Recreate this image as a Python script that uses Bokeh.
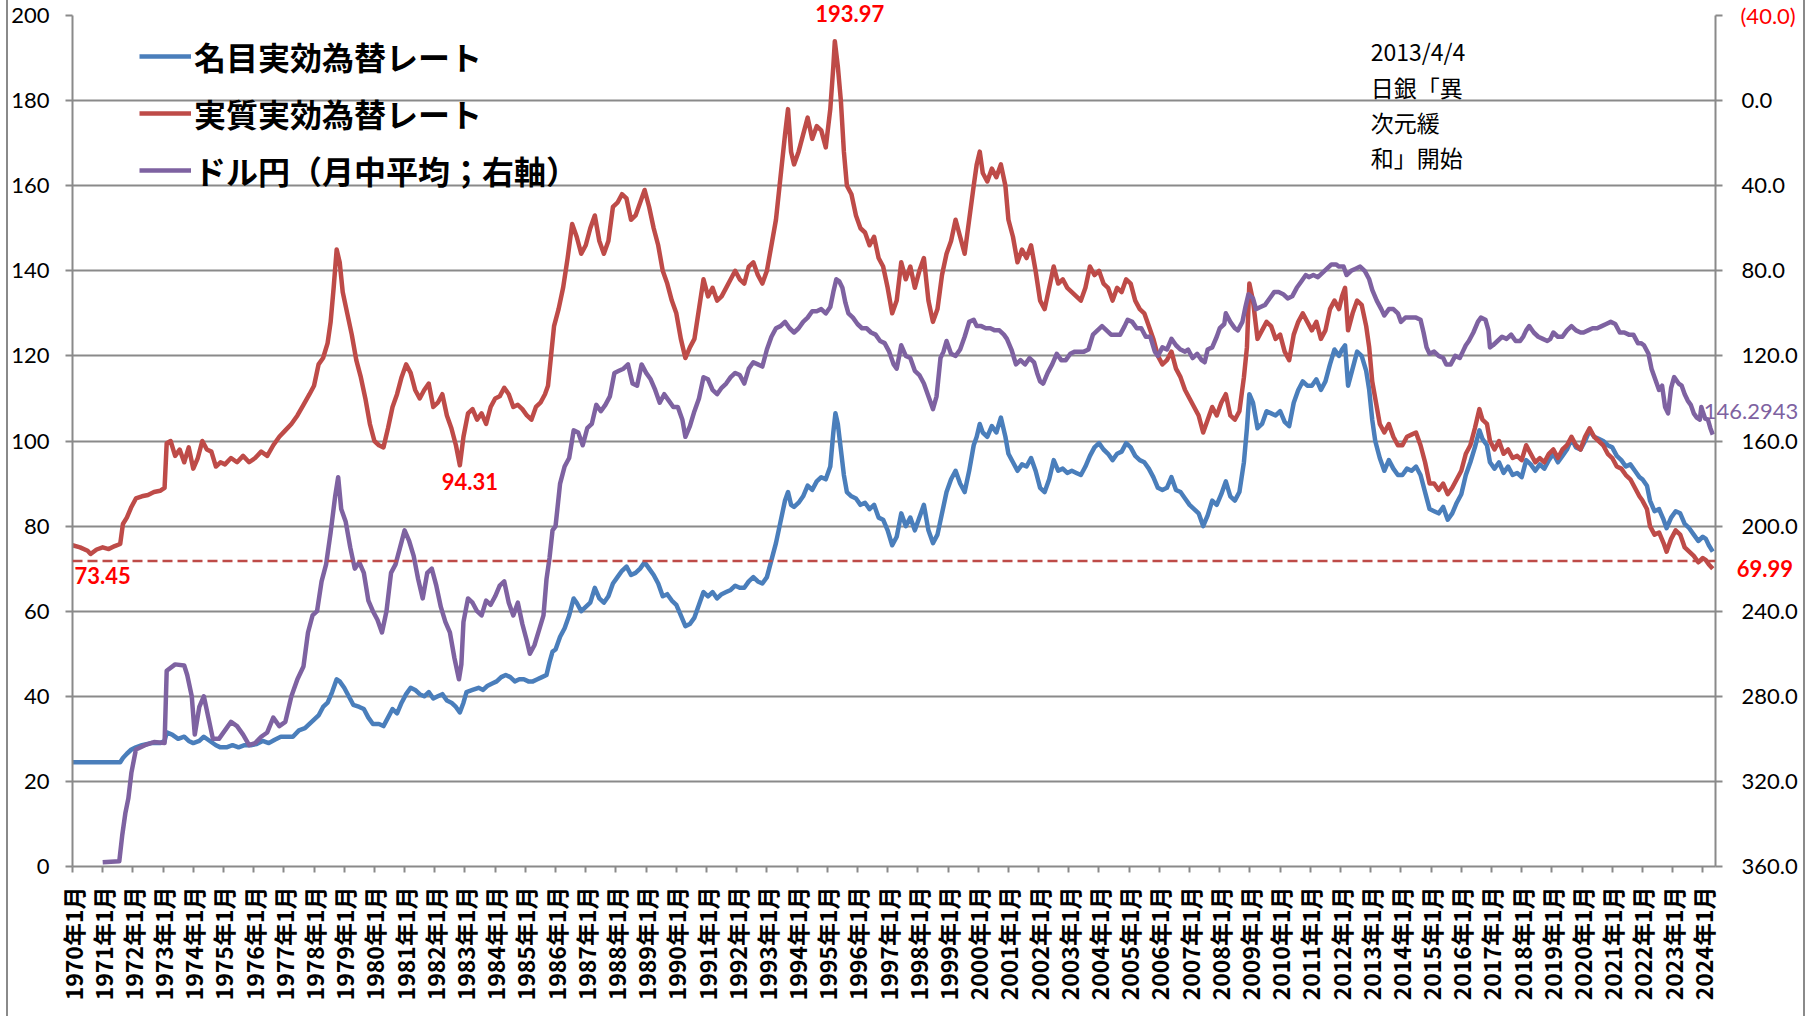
from bokeh.plotting import figure
from bokeh.layouts import column
from bokeh.models import (Range1d, LinearAxis, FixedTicker, Label, Legend,
                          LegendItem, Span, PrintfTickFormatter)
from bokeh.embed import file_html
from bokeh.resources import INLINE

# ---------------- data: (fractional year, value) ----------------
reer = [(1970.0,75.5),(1970.25,75.0),(1970.5,74.2),(1970.6,73.45),(1970.8,74.5),(1971.0,75.0),(1971.2,74.6),(1971.4,75.3),(1971.58,75.8),(1971.67,80.5),(1971.8,82.0),(1971.95,84.5),(1972.1,86.5),(1972.3,87.0),(1972.5,87.3),(1972.7,88.0),(1972.9,88.3),(1973.05,89.0),(1973.12,99.5),(1973.25,100.0),(1973.4,96.5),(1973.55,98.0),(1973.7,95.0),(1973.85,98.5),(1974.0,93.5),(1974.15,96.0),(1974.3,100.0),(1974.45,98.0),(1974.6,97.5),(1974.75,94.0),(1974.9,95.0),(1975.05,94.5),(1975.25,96.0),(1975.45,95.0),(1975.65,96.5),(1975.85,95.0),(1976.05,96.0),(1976.25,97.5),(1976.45,96.5),(1976.65,99.0),(1976.85,101.0),(1977.05,102.5),(1977.25,104.0),(1977.45,106.0),(1977.65,108.5),(1977.85,111.0),(1978.0,113.0),(1978.15,118.0),(1978.3,119.5),(1978.45,123.0),(1978.55,128.0),(1978.65,136.0),(1978.75,145.0),(1978.85,142.0),(1978.95,135.0),(1979.1,130.0),(1979.25,125.0),(1979.4,119.0),(1979.55,115.0),(1979.7,110.0),(1979.85,104.0),(1980.0,100.0),(1980.15,99.0),(1980.3,98.5),(1980.45,103.0),(1980.6,108.0),(1980.75,111.0),(1980.9,115.0),(1981.05,118.0),(1981.2,116.0),(1981.35,112.0),(1981.5,110.0),(1981.65,112.0),(1981.8,113.5),(1981.95,108.0),(1982.1,109.0),(1982.25,111.0),(1982.4,106.0),(1982.55,103.0),(1982.7,99.0),(1982.83,94.31),(1982.95,101.0),(1983.1,106.5),(1983.25,107.5),(1983.4,105.0),(1983.55,106.5),(1983.7,104.0),(1983.85,108.0),(1984.0,110.0),(1984.15,110.5),(1984.3,112.5),(1984.45,111.0),(1984.6,108.0),(1984.75,108.5),(1984.9,107.5),(1985.05,106.0),(1985.2,105.0),(1985.35,108.0),(1985.5,109.0),(1985.65,111.0),(1985.75,113.0),(1985.85,120.0),(1985.95,127.0),(1986.1,131.0),(1986.25,136.0),(1986.4,143.0),(1986.55,151.0),(1986.7,148.0),(1986.85,144.0),(1987.0,146.0),(1987.15,150.0),(1987.3,153.0),(1987.45,147.0),(1987.6,144.0),(1987.75,147.0),(1987.9,155.0),(1988.05,156.0),(1988.2,158.0),(1988.35,157.0),(1988.5,152.0),(1988.65,153.0),(1988.8,156.0),(1988.95,159.0),(1989.1,155.0),(1989.25,150.0),(1989.4,146.0),(1989.55,140.0),(1989.7,137.0),(1989.85,133.0),(1990.0,130.0),(1990.15,124.0),(1990.3,119.5),(1990.45,122.0),(1990.6,124.0),(1990.75,131.0),(1990.9,138.0),(1991.05,134.0),(1991.2,136.0),(1991.35,133.0),(1991.5,134.0),(1991.65,136.0),(1991.8,138.0),(1991.95,140.0),(1992.1,138.0),(1992.25,137.0),(1992.4,141.0),(1992.55,142.0),(1992.7,139.0),(1992.85,137.0),(1993.0,140.0),(1993.15,146.0),(1993.3,152.0),(1993.45,162.0),(1993.6,172.0),(1993.7,178.0),(1993.8,168.0),(1993.9,165.0),(1994.05,168.0),(1994.2,172.0),(1994.35,176.0),(1994.5,171.0),(1994.65,174.0),(1994.8,173.0),(1994.95,169.0),(1995.1,178.0),(1995.2,188.0),(1995.25,193.97),(1995.35,188.0),(1995.45,180.0),(1995.55,168.0),(1995.65,160.0),(1995.8,158.0),(1995.95,153.0),(1996.1,150.0),(1996.25,149.0),(1996.4,146.0),(1996.55,148.0),(1996.7,143.0),(1996.85,141.0),(1997.0,136.0),(1997.15,130.0),(1997.3,133.0),(1997.45,142.0),(1997.6,138.0),(1997.75,141.0),(1997.9,136.0),(1998.05,140.0),(1998.2,143.0),(1998.35,133.0),(1998.5,128.0),(1998.65,131.0),(1998.8,139.0),(1998.95,144.0),(1999.1,147.0),(1999.25,152.0),(1999.4,148.0),(1999.55,144.0),(1999.7,152.0),(1999.85,160.0),(1999.95,165.0),(2000.05,168.0),(2000.15,163.0),(2000.3,161.0),(2000.45,164.0),(2000.6,162.0),(2000.75,165.0),(2000.9,160.0),(2001.0,152.0),(2001.15,148.0),(2001.3,142.0),(2001.45,145.0),(2001.6,143.0),(2001.75,146.0),(2001.9,140.0),(2002.05,133.0),(2002.2,131.0),(2002.35,136.0),(2002.5,141.0),(2002.65,137.0),(2002.8,138.0),(2002.95,136.0),(2003.1,135.0),(2003.25,134.0),(2003.4,133.0),(2003.55,136.0),(2003.7,141.0),(2003.85,139.0),(2004.0,140.0),(2004.15,137.0),(2004.3,136.0),(2004.45,133.0),(2004.6,136.0),(2004.75,135.0),(2004.9,138.0),(2005.05,137.0),(2005.2,133.0),(2005.35,131.0),(2005.5,130.0),(2005.65,127.0),(2005.8,124.0),(2005.95,120.0),(2006.1,118.0),(2006.25,119.0),(2006.4,121.0),(2006.55,117.0),(2006.7,115.0),(2006.85,112.0),(2007.0,110.0),(2007.15,108.0),(2007.3,106.0),(2007.45,102.0),(2007.6,105.0),(2007.75,108.0),(2007.9,106.0),(2008.05,109.0),(2008.2,111.0),(2008.35,106.0),(2008.5,105.0),(2008.65,107.0),(2008.8,115.0),(2008.9,122.0),(2008.98,137.0),(2009.1,133.0),(2009.25,124.0),(2009.4,126.0),(2009.55,128.0),(2009.7,127.0),(2009.85,124.0),(2010.0,125.0),(2010.15,121.0),(2010.3,119.0),(2010.45,125.0),(2010.6,128.0),(2010.75,130.0),(2010.9,128.0),(2011.05,126.0),(2011.2,128.0),(2011.35,124.0),(2011.5,126.0),(2011.65,131.0),(2011.8,133.0),(2011.95,131.0),(2012.05,134.0),(2012.15,136.0),(2012.25,126.0),(2012.4,130.0),(2012.55,133.0),(2012.7,132.0),(2012.85,127.0),(2012.95,122.0),(2013.05,114.0),(2013.15,110.0),(2013.3,104.0),(2013.45,102.0),(2013.6,104.0),(2013.75,101.0),(2013.9,99.0),(2014.05,99.0),(2014.2,101.0),(2014.35,101.5),(2014.5,102.0),(2014.65,99.0),(2014.8,95.0),(2014.95,90.0),(2015.1,90.0),(2015.25,88.5),(2015.4,90.0),(2015.55,87.5),(2015.7,89.0),(2015.85,91.0),(2016.0,93.0),(2016.15,97.0),(2016.3,99.0),(2016.45,103.0),(2016.6,107.5),(2016.7,105.0),(2016.85,104.0),(2016.95,100.0),(2017.1,98.0),(2017.25,100.0),(2017.4,97.0),(2017.55,98.0),(2017.7,96.0),(2017.85,96.5),(2018.0,95.5),(2018.15,99.0),(2018.3,97.0),(2018.45,95.0),(2018.6,96.0),(2018.75,95.0),(2018.9,97.0),(2019.05,98.0),(2019.2,96.0),(2019.35,98.0),(2019.5,99.0),(2019.65,101.0),(2019.8,99.0),(2019.95,98.0),(2020.1,101.0),(2020.25,103.0),(2020.4,101.0),(2020.55,100.0),(2020.7,99.0),(2020.85,97.0),(2021.0,96.0),(2021.15,94.0),(2021.3,93.5),(2021.45,92.0),(2021.6,91.0),(2021.75,89.0),(2021.9,87.0),(2022.0,86.0),(2022.15,84.0),(2022.25,80.0),(2022.4,78.0),(2022.55,78.5),(2022.7,76.0),(2022.8,74.0),(2022.95,77.0),(2023.1,79.0),(2023.25,78.0),(2023.4,75.0),(2023.55,74.0),(2023.7,73.0),(2023.85,71.5),(2024.0,72.5),(2024.1,72.0),(2024.2,71.0),(2024.33,69.99)]

neer = [(1970.0,24.5),(1971.58,24.5),(1971.67,25.5),(1971.8,26.5),(1971.95,27.5),(1972.1,28.0),(1972.3,28.5),(1972.6,29.0),(1972.9,29.0),(1973.05,29.5),(1973.12,31.5),(1973.3,31.0),(1973.5,30.0),(1973.7,30.5),(1973.85,29.5),(1974.0,29.0),(1974.2,29.5),(1974.35,30.5),(1974.55,29.5),(1974.75,28.5),(1974.9,28.0),(1975.1,28.0),(1975.3,28.5),(1975.5,28.0),(1975.7,28.5),(1975.9,28.5),(1976.1,28.8),(1976.3,29.5),(1976.5,29.0),(1976.7,29.8),(1976.9,30.5),(1977.1,30.5),(1977.3,30.5),(1977.5,32.0),(1977.7,32.5),(1977.85,33.5),(1978.0,34.5),(1978.15,35.5),(1978.3,37.5),(1978.45,38.5),(1978.6,41.0),(1978.75,44.0),(1978.85,43.5),(1979.0,42.0),(1979.15,40.0),(1979.3,38.0),(1979.5,37.5),(1979.65,37.0),(1979.8,35.0),(1979.95,33.5),(1980.15,33.5),(1980.3,33.0),(1980.45,35.0),(1980.6,37.0),(1980.75,36.0),(1980.9,38.5),(1981.05,40.5),(1981.2,42.0),(1981.35,41.5),(1981.5,40.5),(1981.65,40.0),(1981.8,41.0),(1981.95,39.5),(1982.1,40.0),(1982.25,40.5),(1982.4,39.0),(1982.55,38.5),(1982.7,37.5),(1982.83,36.2),(1982.95,38.5),(1983.05,41.0),(1983.25,41.5),(1983.45,42.0),(1983.6,41.5),(1983.75,42.5),(1983.9,43.0),(1984.05,43.5),(1984.2,44.5),(1984.35,45.0),(1984.5,44.5),(1984.65,43.5),(1984.8,44.0),(1984.95,44.0),(1985.1,43.5),(1985.25,43.5),(1985.4,44.0),(1985.55,44.5),(1985.7,45.0),(1985.8,48.0),(1985.9,50.5),(1986.0,51.0),(1986.15,54.0),(1986.3,56.0),(1986.45,59.0),(1986.6,63.0),(1986.7,62.0),(1986.85,60.0),(1987.0,61.0),(1987.15,62.0),(1987.3,65.5),(1987.45,63.0),(1987.6,62.0),(1987.75,63.5),(1987.9,66.5),(1988.05,68.0),(1988.2,69.5),(1988.35,70.5),(1988.5,68.5),(1988.65,69.0),(1988.8,70.0),(1988.95,71.5),(1989.1,70.0),(1989.25,68.5),(1989.4,66.5),(1989.55,63.5),(1989.7,64.0),(1989.85,62.5),(1990.0,61.5),(1990.15,59.0),(1990.3,56.5),(1990.45,57.0),(1990.6,58.5),(1990.75,61.5),(1990.9,64.5),(1991.05,63.5),(1991.2,64.5),(1991.35,63.0),(1991.5,64.0),(1991.65,64.5),(1991.8,65.0),(1991.95,66.0),(1992.1,65.5),(1992.25,65.5),(1992.4,67.0),(1992.55,68.0),(1992.7,67.0),(1992.85,66.5),(1993.0,68.0),(1993.15,72.0),(1993.3,76.0),(1993.45,81.0),(1993.6,86.0),(1993.7,88.0),(1993.8,85.0),(1993.9,84.5),(1994.05,85.5),(1994.2,87.0),(1994.35,89.5),(1994.5,88.5),(1994.65,90.5),(1994.8,91.5),(1994.95,91.0),(1995.1,94.0),(1995.2,102.0),(1995.27,106.5),(1995.35,104.0),(1995.45,98.0),(1995.55,92.0),(1995.65,88.0),(1995.8,87.0),(1995.95,86.5),(1996.1,85.0),(1996.25,85.5),(1996.4,84.0),(1996.55,85.0),(1996.7,82.0),(1996.85,81.5),(1997.0,79.0),(1997.15,75.5),(1997.3,77.5),(1997.45,83.0),(1997.6,80.0),(1997.75,82.0),(1997.9,79.0),(1998.05,82.0),(1998.2,85.0),(1998.35,79.0),(1998.5,76.0),(1998.65,78.0),(1998.8,83.0),(1998.95,88.0),(1999.1,91.0),(1999.25,93.0),(1999.4,90.0),(1999.55,88.0),(1999.7,93.0),(1999.85,99.0),(1999.95,101.0),(2000.05,104.0),(2000.15,102.0),(2000.3,101.0),(2000.45,103.5),(2000.6,102.0),(2000.75,105.5),(2000.9,101.0),(2001.0,97.0),(2001.15,95.0),(2001.3,93.0),(2001.45,94.5),(2001.6,94.0),(2001.75,96.0),(2001.9,93.0),(2002.05,89.0),(2002.2,88.0),(2002.35,91.0),(2002.5,95.5),(2002.65,93.0),(2002.8,93.5),(2002.95,92.5),(2003.1,93.0),(2003.25,92.5),(2003.4,92.0),(2003.55,94.0),(2003.7,96.5),(2003.85,98.5),(2004.0,99.5),(2004.15,98.0),(2004.3,97.0),(2004.45,95.5),(2004.6,97.0),(2004.75,97.5),(2004.9,99.5),(2005.05,98.5),(2005.2,96.5),(2005.35,95.5),(2005.5,95.0),(2005.65,93.5),(2005.8,91.5),(2005.95,89.0),(2006.1,88.5),(2006.25,89.0),(2006.4,91.5),(2006.55,88.5),(2006.7,88.0),(2006.85,86.5),(2007.0,85.0),(2007.15,84.0),(2007.3,83.0),(2007.45,80.0),(2007.6,82.5),(2007.75,86.0),(2007.9,85.0),(2008.05,87.5),(2008.2,90.5),(2008.35,87.0),(2008.5,86.0),(2008.65,88.0),(2008.8,95.0),(2008.9,103.0),(2008.98,111.0),(2009.1,109.0),(2009.25,103.0),(2009.4,104.0),(2009.55,107.0),(2009.7,106.5),(2009.85,106.0),(2010.0,107.0),(2010.15,104.5),(2010.3,103.5),(2010.45,109.0),(2010.6,112.0),(2010.75,114.0),(2010.9,113.0),(2011.05,113.0),(2011.2,114.5),(2011.35,112.0),(2011.5,114.0),(2011.65,118.0),(2011.8,121.5),(2011.95,120.0),(2012.05,121.5),(2012.15,122.5),(2012.25,113.0),(2012.4,117.0),(2012.55,121.0),(2012.7,120.0),(2012.85,116.5),(2012.95,112.0),(2013.05,105.0),(2013.15,100.0),(2013.3,96.0),(2013.45,93.0),(2013.6,95.5),(2013.75,93.5),(2013.9,92.0),(2014.05,92.0),(2014.2,93.5),(2014.35,93.0),(2014.5,94.0),(2014.65,92.0),(2014.8,88.0),(2014.95,84.0),(2015.1,83.5),(2015.25,83.0),(2015.4,84.5),(2015.55,81.5),(2015.7,83.0),(2015.85,85.5),(2016.0,87.5),(2016.15,92.0),(2016.3,95.0),(2016.45,98.5),(2016.6,102.5),(2016.7,100.5),(2016.85,99.0),(2016.95,95.0),(2017.1,93.5),(2017.25,95.0),(2017.4,92.5),(2017.55,94.0),(2017.7,92.0),(2017.85,92.5),(2018.0,91.5),(2018.15,95.5),(2018.3,94.5),(2018.45,93.0),(2018.6,94.5),(2018.75,93.5),(2018.9,95.5),(2019.05,97.0),(2019.2,95.0),(2019.35,96.5),(2019.5,98.0),(2019.65,100.5),(2019.8,98.5),(2019.95,98.0),(2020.1,100.0),(2020.25,102.5),(2020.4,101.0),(2020.55,100.5),(2020.7,100.0),(2020.85,99.0),(2021.0,98.5),(2021.15,96.5),(2021.3,95.5),(2021.45,94.0),(2021.6,94.5),(2021.75,93.0),(2021.9,91.5),(2022.0,91.0),(2022.15,89.5),(2022.25,86.0),(2022.4,83.5),(2022.55,84.0),(2022.7,81.5),(2022.8,79.5),(2022.95,82.0),(2023.1,83.5),(2023.25,83.0),(2023.4,80.5),(2023.55,79.5),(2023.7,78.0),(2023.85,76.5),(2024.0,77.5),(2024.1,77.0),(2024.2,75.5),(2024.33,74.0)]

usdjpy = [(1971.0,358),(1971.55,357.5),(1971.65,345),(1971.75,335),(1971.85,328),(1971.95,316),(1972.1,305),(1972.4,303),(1972.7,301.5),(1973.05,302),(1973.12,268),(1973.4,265),(1973.7,265.5),(1973.8,270),(1973.95,280),(1974.05,298),(1974.2,285),(1974.35,280),(1974.5,290),(1974.65,300),(1974.85,300),(1975.05,296),(1975.25,292),(1975.45,294),(1975.65,298),(1975.85,303),(1976.05,302),(1976.25,299),(1976.45,297),(1976.65,290),(1976.85,294),(1977.05,292),(1977.25,280),(1977.45,272),(1977.65,266),(1977.8,250),(1977.95,242),(1978.1,240),(1978.25,226),(1978.4,218),(1978.55,203),(1978.7,186),(1978.8,177),(1978.9,192),(1979.05,198),(1979.2,210),(1979.35,220),(1979.5,217),(1979.65,222),(1979.8,235),(1979.95,240),(1980.1,244),(1980.25,250),(1980.4,240),(1980.55,222),(1980.7,218),(1980.85,210),(1981.0,202),(1981.15,207),(1981.3,214),(1981.45,225),(1981.6,234),(1981.75,222),(1981.9,220),(1982.05,228),(1982.2,238),(1982.35,245),(1982.5,250),(1982.65,262),(1982.8,272),(1982.88,265),(1982.95,245),(1983.1,234),(1983.25,236),(1983.4,240),(1983.55,242),(1983.7,235),(1983.85,237),(1984.0,233),(1984.15,228),(1984.3,226),(1984.45,236),(1984.6,242),(1984.75,236),(1984.9,246),(1985.05,254),(1985.15,260),(1985.3,256),(1985.45,249),(1985.6,242),(1985.7,225),(1985.8,215),(1985.9,202),(1986.0,200),(1986.15,180),(1986.3,172),(1986.45,168),(1986.6,155),(1986.75,156),(1986.9,162),(1987.05,154),(1987.2,152),(1987.35,143),(1987.5,146),(1987.65,143),(1987.8,139),(1987.95,128),(1988.1,127),(1988.25,126),(1988.4,124),(1988.55,133),(1988.7,134),(1988.85,124),(1989.0,128),(1989.15,131),(1989.3,136),(1989.45,142),(1989.6,138),(1989.75,141),(1989.9,144),(1990.05,144),(1990.2,150),(1990.3,158),(1990.45,153),(1990.6,146),(1990.75,140),(1990.9,130),(1991.05,131),(1991.2,136),(1991.35,138),(1991.5,135),(1991.65,133),(1991.8,130),(1991.95,128),(1992.1,129),(1992.25,133),(1992.4,126),(1992.55,123),(1992.7,124),(1992.85,125),(1993.0,117),(1993.15,111),(1993.3,107),(1993.45,106),(1993.6,104),(1993.75,107),(1993.9,109),(1994.05,107),(1994.2,104),(1994.35,102),(1994.5,99),(1994.65,99),(1994.8,98),(1994.95,100),(1995.1,97),(1995.2,90),(1995.3,84),(1995.4,85),(1995.5,88),(1995.6,95),(1995.7,100),(1995.85,102),(1996.0,105),(1996.15,107),(1996.3,107),(1996.45,109),(1996.6,110),(1996.75,113),(1996.9,114),(1997.05,118),(1997.2,124),(1997.3,126),(1997.45,115),(1997.6,120),(1997.75,121),(1997.9,127),(1998.05,129),(1998.2,133),(1998.35,139),(1998.5,145),(1998.62,139),(1998.75,121),(1998.85,118),(1998.95,113),(1999.1,119),(1999.25,120),(1999.4,117),(1999.55,111),(1999.7,104),(1999.85,103),(1999.95,106),(2000.1,106),(2000.25,107),(2000.4,107),(2000.55,108),(2000.7,108),(2000.85,110),(2000.95,112),(2001.1,117),(2001.25,124),(2001.4,122),(2001.55,124),(2001.7,121),(2001.85,123),(2001.95,128),(2002.05,132),(2002.15,133),(2002.3,128),(2002.45,124),(2002.6,119),(2002.75,122),(2002.9,122),(2003.05,119),(2003.2,118),(2003.35,118),(2003.5,118),(2003.65,117),(2003.8,110),(2003.95,108),(2004.1,106),(2004.25,108),(2004.4,110),(2004.55,110),(2004.7,110),(2004.85,106),(2004.95,103),(2005.1,104),(2005.25,107),(2005.4,107),(2005.55,111),(2005.7,111),(2005.85,118),(2005.95,120),(2006.1,116),(2006.25,117),(2006.4,112),(2006.55,115),(2006.7,117),(2006.85,118),(2006.95,117),(2007.1,121),(2007.25,119),(2007.4,122),(2007.5,123),(2007.6,117),(2007.75,116),(2007.9,111),(2008.0,107),(2008.15,105),(2008.2,100),(2008.35,104),(2008.5,107),(2008.6,108),(2008.75,104),(2008.85,97),(2008.95,91),(2009.1,93),(2009.2,98),(2009.35,97),(2009.5,96),(2009.65,93),(2009.8,90),(2009.95,90),(2010.1,91),(2010.25,93),(2010.4,92),(2010.55,88),(2010.7,85),(2010.85,82),(2010.95,83),(2011.1,82),(2011.25,83),(2011.4,81),(2011.55,79),(2011.7,77),(2011.85,77),(2011.95,78),(2012.1,78),(2012.2,82),(2012.35,80),(2012.5,79),(2012.65,78),(2012.8,80),(2012.95,84),(2013.05,89),(2013.2,94),(2013.35,98),(2013.45,101),(2013.6,98),(2013.75,98),(2013.9,100),(2014.0,104),(2014.15,102),(2014.3,102),(2014.5,102),(2014.65,103),(2014.75,109),(2014.85,116),(2014.95,119),(2015.1,118),(2015.25,120),(2015.4,121),(2015.5,124),(2015.65,124),(2015.8,120),(2015.95,121),(2016.05,118),(2016.15,115),(2016.25,113),(2016.4,109),(2016.55,104),(2016.65,102),(2016.8,103),(2016.9,108),(2016.95,116),(2017.05,115),(2017.2,113),(2017.35,111),(2017.5,112),(2017.65,110),(2017.8,113),(2017.95,113),(2018.05,111),(2018.15,108),(2018.25,106),(2018.4,109),(2018.55,111),(2018.7,112),(2018.85,113),(2018.95,112),(2019.05,109),(2019.2,111),(2019.35,111),(2019.5,108),(2019.65,106),(2019.8,108),(2019.95,109),(2020.05,109),(2020.2,108),(2020.35,107),(2020.5,107),(2020.65,106),(2020.8,105),(2020.95,104),(2021.1,105),(2021.25,109),(2021.4,109),(2021.55,110),(2021.7,110),(2021.85,114),(2021.95,114),(2022.05,115),(2022.2,119),(2022.3,126),(2022.4,130),(2022.55,136),(2022.65,134),(2022.75,144),(2022.85,147),(2022.95,135),(2023.05,130),(2023.2,133),(2023.3,134),(2023.4,138),(2023.5,141),(2023.6,143),(2023.7,147),(2023.8,149),(2023.9,150),(2023.95,144),(2024.0,146.2943),(2024.08,149.5),(2024.17,150),(2024.25,154),(2024.33,157)]

years = list(range(1970, 2025))
x_tick_labels = {y: f"{y}年1月" for y in years}
left_ticks = list(range(0, 201, 20))
right_ticks = list(range(-40, 361, 40))
ref_level = 71.8
x_start, x_end = 1970, 2024.42
y_lo, y_hi = 0, 200
yen_top, yen_bottom = -40, 360
names = ["名目実効為替レート", "実質実効為替レート", "ドル円（月中平均；右軸）"]
note = ["2013/4/4", "日銀「異", "次元緩", "和」開始"]

reer_t, reer_v = [list(c) for c in zip(*reer)]
neer_t, neer_v = [list(c) for c in zip(*neer)]
usd_t, usd_v = [list(c) for c in zip(*usdjpy)]

BLUE, RED, PURPLE = "#4A7EBB", "#BE4B48", "#7E62A1"
GRID = "#8A8A8A"
CJK = "Noto Sans CJK JP"
NUM = "Lato"
W, H = 1816, 1016
B_L, B_R, B_T, B_B = 72, 101, 15, 150

p = figure(width=W, height=H, output_backend="svg", toolbar_location=None,
           x_range=Range1d(x_start, x_end), y_range=Range1d(y_lo, y_hi),
           min_border_left=B_L, min_border_right=B_R, min_border_top=B_T,
           min_border_bottom=B_B, background_fill_color="white",
           border_fill_alpha=0)
p.outline_line_color = None
p.styles = {"background-image": "linear-gradient(to right, white 0px, white 6px, #8A8A8A 6px, #8A8A8A 8px, white 8px, white 1803px, #8A8A8A 1803px, #8A8A8A 1805px, white 1805px)"}
p.extra_y_ranges = {"yen": Range1d(yen_bottom, yen_top)}

p.xgrid.visible = False
p.ygrid.ticker = FixedTicker(ticks=left_ticks)
p.ygrid.grid_line_color = GRID
p.ygrid.grid_line_width = 2

def style_axis(ax, font, size, standoff, tick_out):
    ax.major_label_text_font = font
    ax.major_label_text_font_size = size
    ax.major_label_text_color = "black"
    ax.major_label_standoff = standoff
    ax.axis_line_color = GRID
    ax.axis_line_width = 2
    ax.major_tick_line_color = GRID
    ax.major_tick_line_width = 2
    ax.major_tick_in = 0
    ax.major_tick_out = tick_out
    ax.minor_tick_line_color = None

xa = p.xaxis[0]
xa.ticker = FixedTicker(ticks=years)
xa.major_label_overrides = x_tick_labels
xa.major_label_orientation = 3.14159265 / 2
style_axis(xa, CJK, "23px", 14, 6)
xa.major_label_text_font_style = "bold"

ya = p.yaxis[0]
ya.ticker = FixedTicker(ticks=left_ticks)
style_axis(ya, NUM, "22px", 16, 7)

ra = LinearAxis(y_range_name="yen", ticker=FixedTicker(ticks=right_ticks),
                formatter=PrintfTickFormatter(format="%.1f"))
ra.major_label_overrides = {right_ticks[0]: ""}
style_axis(ra, NUM, "22px", 19, 7)
p.add_layout(ra, "right")

p.add_layout(Span(location=ref_level, dimension="width", line_color=RED,
                  line_width=2.5, line_dash="10 5"))

r_blue = p.line(neer_t, neer_v, line_color=BLUE, line_width=4.5, line_join="round")
r_red = p.line(reer_t, reer_v, line_color=RED, line_width=4.5, line_join="round")
r_pur = p.line(usd_t, usd_v, line_color=PURPLE, line_width=4.5, line_join="round",
               y_range_name="yen")

legend = Legend(items=[LegendItem(label=names[0], renderers=[r_blue]),
                       LegendItem(label=names[1], renderers=[r_red]),
                       LegendItem(label=names[2], renderers=[r_pur])],
                location=(67, 673), orientation="vertical",
                border_line_color=None, background_fill_alpha=0,
                label_text_font=CJK, label_text_font_size="32px",
                label_text_font_style="bold", label_text_color="black",
                glyph_width=52, glyph_height=46, label_height=46,
                label_standoff=3, spacing=11, padding=0, margin=0)
p.add_layout(legend)

lab = dict(text_color="#FF0000", text_font=NUM, text_font_style="bold",
           text_font_size="22px", text_align="center", text_baseline="middle")
i_first_min = reer_v.index(min(reer_v[:10]))
i_82 = reer_v.index(94.31)
p.add_layout(Label(x=reer_t[i_82], y=reer_v[i_82], text=f"{reer_v[i_82]:.2f}",
                   x_offset=10, y_offset=-16, **lab))
p.add_layout(Label(x=reer_t[i_first_min], y=reer_v[i_first_min],
                   text=f"{reer_v[i_first_min]:.2f}", x_offset=12, y_offset=-22, **lab))

for i, line in enumerate(note):
    p.add_layout(Label(x=2013.0, y=191.6 - i * 8.3, text=line, text_font=CJK,
                       text_font_size="23px", text_color="black",
                       text_align="left", text_baseline="middle"))

# ---- transparent overlay with the same data mapping, for labels outside the frame ----
dpx = (x_end - x_start) / (W - B_L - B_R)
dpy = (y_hi - y_lo) / (H - B_T - B_B)
dyen = (yen_bottom - yen_top) / (H - B_T - B_B)
ov = figure(width=W, height=H, output_backend="svg", toolbar_location=None,
            x_range=Range1d(x_start - B_L * dpx, x_end + B_R * dpx),
            y_range=Range1d(y_lo - B_B * dpy, y_hi + B_T * dpy),
            x_axis_location=None, y_axis_location=None, min_border=0,
            background_fill_alpha=0, border_fill_alpha=0)
ov.outline_line_color = None
ov.grid.visible = False
ov.extra_y_ranges = {"yen": Range1d(yen_bottom + B_B * dyen, yen_top - B_T * dyen)}
ov.styles = {"position": "absolute", "left": "0px", "top": "0px"}
for fig in (p, ov):
    if "frame_align" in fig.properties():
        fig.frame_align = False

i_max = reer_v.index(max(reer_v))
i_usd = usd_v.index(146.2943)
ov.add_layout(Label(x=reer_t[i_max], y=reer_v[i_max], text=f"{reer_v[i_max]:.2f}",
                    x_offset=15, y_offset=28, **lab))
ov.add_layout(Label(x=reer_t[-1], y=reer_v[-1], text=f"{reer_v[-1]:.2f}",
                    x_offset=24, y_offset=0, **{**lab, "text_align": "left"}))
ov.add_layout(Label(x=usd_t[i_usd], y=usd_v[i_usd], y_range_name="yen",
                    text=f"{usd_v[i_usd]:.4f}", text_color=PURPLE, text_font=NUM,
                    text_font_size="22px", text_align="left", text_baseline="middle",
                    x_offset=1))
ov.add_layout(Label(x=x_end, y=right_ticks[0], y_range_name="yen", text="(40.0)",
                    text_color="#FF0000", text_font=NUM, text_font_size="22px",
                    text_align="left", text_baseline="middle", x_offset=25))

page = column(p, ov, styles={"position": "relative"})
open("out.html", "w").write(file_html(page, INLINE))
